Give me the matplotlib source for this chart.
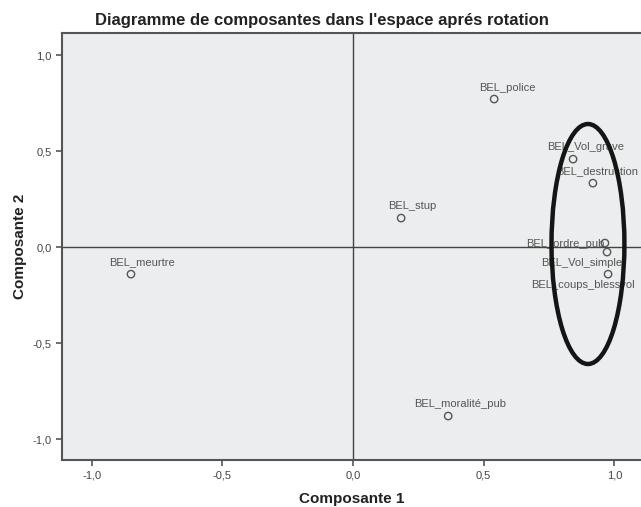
import matplotlib
matplotlib.use("Agg")
import matplotlib.pyplot as plt
from matplotlib.patches import Ellipse

# rotated component loadings
names = ["BEL_police", "BEL_Vol_grave", "BEL_destruction", "BEL_stup",
         "BEL_ordre_pub", "BEL_Vol_simple", "BEL_coups_blessvol",
         "BEL_meurtre", "BEL_moralité_pub"]
comp1 = [0.540, 0.842, 0.918, 0.184, 0.964, 0.972, 0.976, -0.850, 0.364]
comp2 = [0.771, 0.458, 0.333, 0.151, 0.021, -0.026, -0.141, -0.141, -0.880]

ticks = [-1.0, -0.5, 0.0, 0.5, 1.0]
tick_labels = ["-1,0", "-0,5", "0,0", "0,5", "1,0"]

# label offsets in pixels (text centre relative to marker)
label_off = [(13, 11), (13, 12), (4, 12), (11, 12), (-40, -1),
             (-25, -11), (-25, -11), (11, 12), (12, 12)]

plt.rcParams["font.family"] = ["Liberation Sans", "DejaVu Sans"]

fig = plt.figure(figsize=(6.41, 5.07), dpi=100)
ax = fig.add_axes([62/641, 1-460/507, 1-62/641, (460-33)/507])
ax.set_facecolor("#ecedee")

ax.set_xlim(-1.114, 1.102)
ax.set_ylim(-1.109, 1.115)

ax.axhline(0, color="#444444", lw=1.0, zorder=1)
ax.axvline(0, color="#444444", lw=1.0, zorder=1)

ax.scatter(comp1, comp2, s=28, facecolors="none", edgecolors="#555555",
           linewidths=1.0, zorder=3)

for n, x, y, off in zip(names, comp1, comp2, label_off):
    ax.annotate(n, (x, y), xytext=off, textcoords="offset pixels",
                ha="center", va="center", fontsize=8, color="#555555",
                annotation_clip=False, zorder=4)

ell = Ellipse((0.899, 0.016), 0.279, 1.25, fill=False, edgecolor="#151515",
              lw=3.2, zorder=5)
ax.add_patch(ell)

ax.set_xticks(ticks)
ax.set_xticklabels(tick_labels)
ax.set_yticks(ticks)
ax.set_yticklabels(tick_labels)
ax.tick_params(direction="out", length=4, width=1.2, color="#555555",
               labelcolor="#444444", labelsize=8)

for s in ["left", "bottom", "top"]:
    ax.spines[s].set_color("#555555")
    ax.spines[s].set_linewidth(1.5)
ax.spines["right"].set_visible(False)

ax.set_xlabel("Composante 1", fontsize=11, fontweight="bold", color="#222222",
              labelpad=8)
ax.set_ylabel("Composante 2", fontsize=11, fontweight="bold", color="#222222",
              labelpad=4)

fig.text(322/641, 1-20/507, "Diagramme de composantes dans l'espace aprés rotation",
         ha="center", va="center", fontsize=12, fontweight="bold", color="#222222")

fig.savefig("out.png", dpi=100)
